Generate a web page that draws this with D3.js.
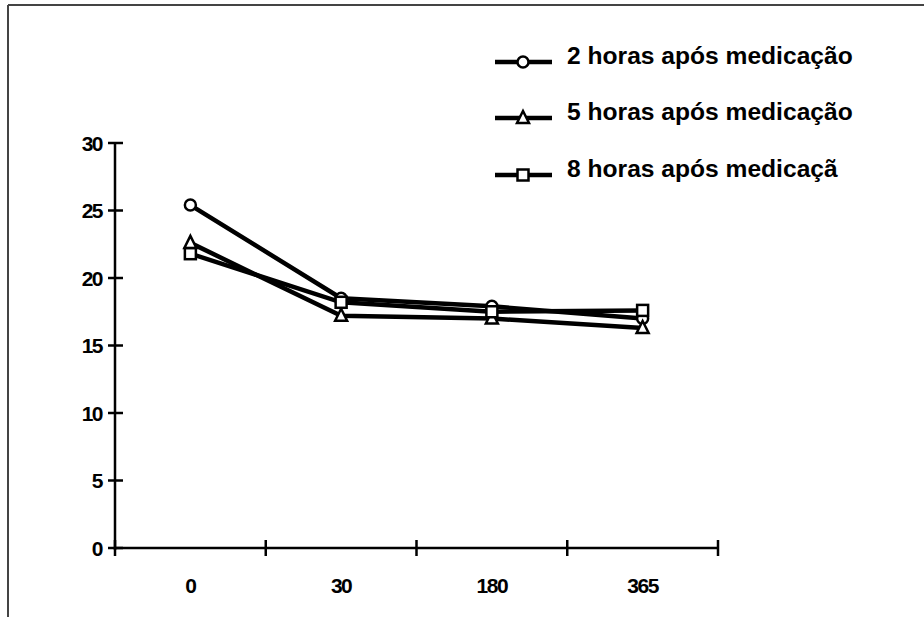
<!DOCTYPE html>
<html>
  <head>
    <meta charset="utf-8">
    <title></title>
    <script src="https://d3js.org/d3.v7.min.js"></script>
  </head>
  <style>
    body { margin: 0; background: #fff; }
  </style>
  <body>
  <svg width="924" height="617"></svg>
  <script>

  var categories = ["0", "30", "180", "365"];
  var yTicks = [0, 5, 10, 15, 20, 25, 30];
  var seriesNames = ["2 horas após medicação", "5 horas após medicação", "8 horas após medicaçã"];
  var h2 = [25.4, 18.5, 17.9, 17.0];
  var h5 = [22.6, 17.2, 17.0, 16.3];
  var h8 = [21.8, 18.2, 17.5, 17.6];
  var symbols = ["circle", "triangle", "square"];

  var svg = d3.select("svg");

  // frame
  svg.append("line").attr("x1", 8).attr("y1", 5).attr("x2", 924).attr("y2", 5)
    .attr("stroke", "#444").attr("stroke-width", 2);
  svg.append("line").attr("x1", 8).attr("y1", 5).attr("x2", 8).attr("y2", 617)
    .attr("stroke", "#444").attr("stroke-width", 2);

  var x = d3.scaleBand().domain(categories).range([115, 718]);
  var y = d3.scaleLinear().domain([0, 30]).range([548, 143]);

  var labelFont = "'Liberation Sans', Arial, sans-serif";

  // y axis
  var gy = svg.append("g");
  gy.append("line").attr("x1", 115).attr("x2", 115).attr("y1", y(30)).attr("y2", y(0) + 2)
    .attr("stroke", "#000").attr("stroke-width", 2.5);
  gy.selectAll(".yt").data(yTicks).enter().append("line")
    .attr("x1", 108).attr("x2", 123)
    .attr("y1", function(d) { return y(d); }).attr("y2", function(d) { return y(d); })
    .attr("stroke", "#000").attr("stroke-width", 2.5);
  gy.selectAll(".yl").data(yTicks).enter().append("text")
    .attr("x", 102).attr("y", function(d) { return y(d) + 7.5; })
    .attr("text-anchor", "end")
    .style("font-family", labelFont)
    .style("font-weight", "bold").style("font-size", "21px")
    .style("letter-spacing", "-1.5px")
    .text(function(d) { return d; });

  // x axis
  var gx = svg.append("g");
  gx.append("line").attr("x1", 115).attr("x2", 718).attr("y1", y(0)).attr("y2", y(0))
    .attr("stroke", "#000").attr("stroke-width", 2.5);
  var xTickPos = categories.map(function(c) { return x(c); }).concat([x.range()[1]]);
  gx.selectAll(".xt").data(xTickPos).enter().append("line")
    .attr("x1", function(d) { return d; }).attr("x2", function(d) { return d; })
    .attr("y1", y(0) - 8).attr("y2", y(0) + 8)
    .attr("stroke", "#000").attr("stroke-width", 2.5);
  gx.selectAll(".xl").data(categories).enter().append("text")
    .attr("x", function(d) { return x(d) + x.bandwidth() / 2; })
    .attr("y", 593)
    .attr("text-anchor", "middle")
    .style("font-family", labelFont)
    .style("font-weight", "bold").style("font-size", "21px")
    .style("letter-spacing", "-1.5px")
    .text(function(d) { return d; });

  var series = [h2, h5, h8];
  var cx = function(i) { return x(categories[i]) + x.bandwidth() / 2; };
  var line = d3.line()
    .x(function(d, i) { return cx(i); })
    .y(function(d) { return y(d); });

  function marker(g, type, px, py) {
    if (type === "circle") {
      g.append("circle").attr("cx", px).attr("cy", py).attr("r", 5.5)
        .attr("fill", "#fff").attr("stroke", "#000").attr("stroke-width", 2.5);
    } else if (type === "triangle") {
      g.append("path")
        .attr("d", "M" + px + "," + (py - 7) + "L" + (px + 6) + "," + (py + 5) + "L" + (px - 6) + "," + (py + 5) + "Z")
        .attr("fill", "#fff").attr("stroke", "#000").attr("stroke-width", 2.5);
    } else {
      g.append("rect").attr("x", px - 5.5).attr("y", py - 5.5).attr("width", 11).attr("height", 11)
        .attr("fill", "#fff").attr("stroke", "#000").attr("stroke-width", 2.5);
    }
  }

  series.forEach(function(s) {
    svg.append("path").datum(s).attr("d", line)
      .attr("fill", "none").attr("stroke", "#000").attr("stroke-width", 4.5);
  });
  series.forEach(function(s, k) {
    var g = svg.append("g");
    s.forEach(function(v, i) { marker(g, symbols[k], cx(i), y(v)); });
  });

  // legend
  var legY = [62, 118, 175];
  seriesNames.forEach(function(name, k) {
    var g = svg.append("g");
    g.append("line").attr("x1", 495).attr("x2", 552).attr("y1", legY[k]).attr("y2", legY[k])
      .attr("stroke", "#000").attr("stroke-width", 4.5);
    marker(g, symbols[k], 523, legY[k]);
    g.append("text").attr("x", 567).attr("y", legY[k] + 2)
      .style("font-family", labelFont)
      .style("font-weight", "bold").style("font-size", "24.6px")
      .text(name);
  });

  </script>
  </body>
</html>
